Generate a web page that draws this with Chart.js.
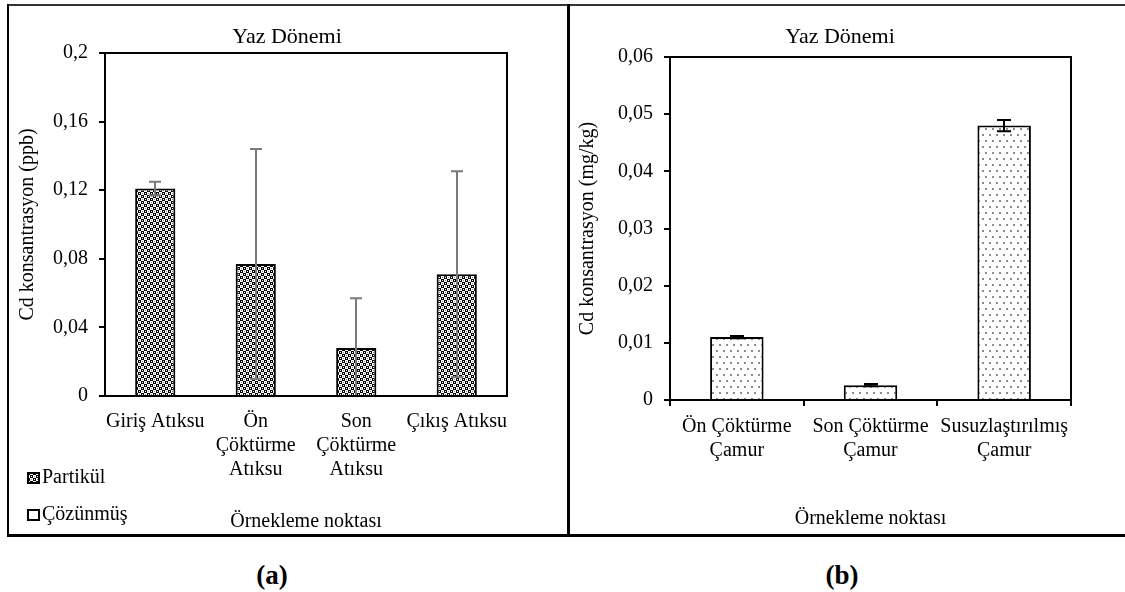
<!DOCTYPE html>
<html>
<head>
<meta charset="utf-8">
<title>Cd konsantrasyon - Yaz Dönemi</title>
<script src="https://cdn.jsdelivr.net/npm/chart.js@4.4.1/dist/chart.umd.min.js"></script>
<style>
    html, body { margin: 0; padding: 0; background: #fff; }
    body {
        width: 1125px; height: 592px; position: relative; overflow: hidden;
        font-family: "Liberation Serif", "Times New Roman", serif; color: #000;
    }
    .wrap { position: absolute; top: 0; height: 540px; }
    #wrapA { left: 0; width: 568px; }
    #wrapB { left: 568px; width: 557px; }
    .line { position: absolute; background: #000; z-index: 5; }
    .leg { position: absolute; left: 27px; font-size: 20px; line-height: 24px; white-space: nowrap; z-index: 6; }
    .leg canvas { display: inline-block; vertical-align: -1px; margin-right: 2px; }
    .panel { position: absolute; top: 560px; width: 100px; text-align: center;
             font-weight: bold; font-size: 27px; line-height: 30px; }
</style>
</head>
<body>

<div class="wrap" id="wrapA"><canvas id="chartA" width="568" height="540"></canvas></div>
<div class="wrap" id="wrapB"><canvas id="chartB" width="557" height="540"></canvas></div>

<!-- outer frame -->
<div class="line" style="left:7px; top:4px; width:1118px; height:2px; background:#333;"></div>
<div class="line" style="left:7px; top:4px; width:2px; height:532px;"></div>
<div class="line" style="left:567px; top:4px; width:3px; height:532px;"></div>
<div class="line" style="left:7px; top:534px; width:1118px; height:3px;"></div>

<div class="leg" style="top:464px;"><canvas id="swPart" width="13" height="12"></canvas>Partikül</div>
<div class="leg" style="top:501px;"><canvas id="swCoz" width="13" height="12"></canvas>Çözünmüş</div>

<div class="panel" style="left:222px;">(a)</div>
<div class="panel" style="left:792px;">(b)</div>

<script>
"use strict";

/* ---------- data ---------- */

const pointsA = [
    "Giriş Atıksu",
    ["Ön", "Çöktürme", "Atıksu"],
    ["Son", "Çöktürme", "Atıksu"],
    "Çıkış Atıksu"
];
const partikulA = [0.121, 0.077, 0.028, 0.071];
const partikulErrA = [0.004, 0.067, 0.029, 0.060];
const yTicksA = ["0", "0,04", "0,08", "0,12", "0,16", "0,2"];

const pointsB = [
    ["Ön Çöktürme", "Çamur"],
    ["Son Çöktürme", "Çamur"],
    ["Susuzlaştırılmış", "Çamur"]
];
const camurB = [0.011, 0.0026, 0.048];
const camurErrB = [0.0002, 0.0002, 0.001];
const yTicksB = ["0", "0,01", "0,02", "0,03", "0,04", "0,05", "0,06"];

const FONT = "'Liberation Serif', 'Times New Roman', serif";

/* ---------- fill patterns ---------- */

function makeCheckPattern() {
    const c = document.createElement("canvas");
    c.width = 6; c.height = 6;
    const g = c.getContext("2d");
    g.fillStyle = "#fff"; g.fillRect(0, 0, 6, 6);
    g.fillStyle = "#000";
    g.fillRect(0, 0, 3, 3);
    g.fillRect(3, 3, 3, 3);
    g.fillStyle = "#fff";
    g.fillRect(1, 1, 1, 1);
    g.fillRect(4, 4, 1, 1);
    g.fillStyle = "#8a8a8a";
    g.fillRect(4, 1, 1, 1);
    g.fillRect(1, 4, 1, 1);
    return g.createPattern(c, "repeat");
}

function makeDotPattern() {
    const c = document.createElement("canvas");
    c.width = 7; c.height = 12;
    const g = c.getContext("2d");
    g.fillStyle = "#fff"; g.fillRect(0, 0, 7, 12);
    g.fillStyle = "#8c8c8c";
    g.fillRect(1, 2, 2, 2);
    g.fillRect(4, 8, 2, 2);
    return g.createPattern(c, "repeat");
}

const checkPattern = makeCheckPattern();
const dotPattern = makeDotPattern();

/* ---------- plugins ---------- */

const errorBars = {
    id: "errorBars",
    afterDatasetsDraw(chart, args, opts) {
        const { ctx, chartArea, scales } = chart;
        const y = scales.y;
        chart.data.datasets.forEach((ds, i) => {
            if (!ds.errors) return;
            const meta = chart.getDatasetMeta(i);
            ctx.save();
            ctx.beginPath();
            ctx.rect(chartArea.left, chartArea.top, chartArea.width, chartArea.height);
            ctx.clip();
            ctx.strokeStyle = opts.color;
            ctx.lineWidth = opts.width;
            meta.data.forEach((bar, j) => {
                const v = ds.data[j];
                const e = ds.errors[j];
                const cx = Math.round(bar.x);
                const yHi = y.getPixelForValue(v + e);
                const yLo = y.getPixelForValue(v - e);
                const h = opts.cap;
                ctx.beginPath();
                ctx.moveTo(cx, yHi); ctx.lineTo(cx, yLo);
                ctx.moveTo(cx - h, yHi); ctx.lineTo(cx + h, yHi);
                ctx.moveTo(cx - h, yLo); ctx.lineTo(cx + h, yLo);
                ctx.stroke();
            });
            ctx.restore();
        });
    }
};

// plot area frame + title centred on the whole panel
const plotBox = {
    id: "plotBox",
    afterDraw(chart, args, opts) {
        const { ctx, chartArea: a } = chart;
        ctx.save();
        ctx.strokeStyle = "#000";
        ctx.lineWidth = 2;
        ctx.strokeRect(a.left, a.top, a.right - a.left, a.bottom - a.top);
        ctx.fillStyle = "#000";
        ctx.font = "22px " + FONT;
        ctx.textAlign = "center";
        ctx.textBaseline = "middle";
        ctx.fillText(opts.text, opts.x, opts.y);
        ctx.restore();
    }
};

/* ---------- charts ---------- */

function baseOptions(cfg) {
    return {
        responsive: false,
        animation: false,
        layout: { padding: { left: 0, right: cfg.padRight, top: cfg.padTop, bottom: 0 } },
        plugins: {
            legend: { display: false },
            tooltip: { enabled: false },
            title: { display: false },
            errorBars: cfg.err,
            plotBox: { text: "Yaz Dönemi", x: cfg.titleX, y: cfg.titleY }
        },
        scales: {
            x: {
                ticks: {
                    color: "#000",
                    font: { family: FONT, size: 20, lineHeight: 1.2 },
                    padding: cfg.xTickPad,
                    maxRotation: 0, minRotation: 0, autoSkip: false
                },
                grid: cfg.xGrid,
                border: { display: true, color: "#000", width: 2 },
                title: {
                    display: true,
                    text: "Örnekleme noktası",
                    color: "#000",
                    font: { family: FONT, size: 20, lineHeight: 1.2 },
                    padding: { top: 0, bottom: cfg.xTitlePad }
                },
                afterFit(s) { s.height = cfg.xHeight; }
            },
            y: {
                min: 0,
                max: cfg.yMax,
                ticks: {
                    stepSize: cfg.yStep,
                    color: "#000",
                    font: { family: FONT, size: 20, lineHeight: 1.2 },
                    padding: 11,
                    callback: (v, i) => cfg.yLabels[i]
                },
                grid: {
                    display: true, drawOnChartArea: false, drawTicks: true,
                    tickLength: 6, color: "#000", lineWidth: 2
                },
                border: { display: true, color: "#000", width: 2 },
                title: {
                    display: true,
                    text: cfg.yTitle,
                    color: "#000",
                    font: { family: FONT, size: 20, lineHeight: 1.2 },
                    padding: { top: cfg.yTitlePad, bottom: 0 }
                },
                afterFit(s) { s.width = cfg.yWidth; }
            }
        }
    };
}

new Chart(document.getElementById("chartA"), {
    type: "bar",
    data: {
        labels: pointsA,
        datasets: [{
            label: "Partikül",
            data: partikulA,
            errors: partikulErrA,
            backgroundColor: checkPattern,
            borderColor: "#000",
            borderWidth: 2,
            barPercentage: 0.4,
            categoryPercentage: 1
        }]
    },
    options: baseOptions({
        padRight: 61,
        padTop: 53,
        titleX: 287,
        titleY: 37,
        xTickPad: 14,
        xGrid: { display: false, drawTicks: false },
        xTitlePad: 6,
        xHeight: 144,
        yMax: 0.2,
        yStep: 0.04,
        yLabels: yTicksA,
        yTitle: "Cd konsantrasyon (ppb)",
        yTitlePad: 16,
        yWidth: 105,
        err: { color: "#7a7a7a", width: 2, cap: 6 }
    }),
    plugins: [errorBars, plotBox]
});

new Chart(document.getElementById("chartB"), {
    type: "bar",
    data: {
        labels: pointsB,
        datasets: [{
            label: "Çamur",
            data: camurB,
            errors: camurErrB,
            backgroundColor: dotPattern,
            borderColor: "#000",
            borderWidth: 2,
            barPercentage: 0.4,
            categoryPercentage: 1
        }]
    },
    options: baseOptions({
        padRight: 54,
        padTop: 57,
        titleX: 272,
        titleY: 37,
        xTickPad: 9,
        xGrid: {
            display: true, offset: true, drawOnChartArea: false, drawTicks: true,
            tickLength: 6, color: "#000", lineWidth: 2
        },
        xTitlePad: 9,
        xHeight: 140,
        yMax: 0.06,
        yStep: 0.01,
        yLabels: yTicksB,
        yTitle: "Cd konsantrasyon (mg/kg)",
        yTitlePad: 8,
        yWidth: 102,
        err: { color: "#000", width: 2, cap: 7 }
    }),
    plugins: [errorBars, plotBox]
});

/* ---------- legend swatches ---------- */

function drawSwatch(id, fill) {
    const c = document.getElementById(id);
    const g = c.getContext("2d");
    g.fillStyle = fill;
    g.fillRect(0, 0, c.width, c.height);
    g.strokeStyle = "#000";
    g.lineWidth = 2;
    g.strokeRect(1, 1, c.width - 2, c.height - 2);
}

drawSwatch("swPart", checkPattern);
drawSwatch("swCoz", "#fff");
</script>
</body>
</html>
